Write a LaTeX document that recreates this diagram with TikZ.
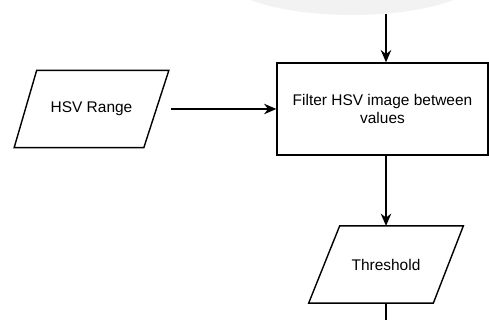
\documentclass[tikz,border=0pt]{standalone}
\usepackage{fontspec}
\setmainfont{Liberation Sans}
\usetikzlibrary{arrows.meta}

\begin{document}
\begin{tikzpicture}[x=0.02cm, y=0.02cm,
    every node/.style={font=\fontsize{8.8}{10.2}\selectfont},
    line/.style={line width=0.8pt},
    flow/.style={line, -{Stealth[length=7pt, width=6pt]}},
    procbox/.style={draw, line, minimum width=4.22cm, minimum height=1.84cm, align=center},
    databox/.style={inner sep=0pt, minimum width=3.08cm, minimum height=1.53cm}]
    % 1. FULL I MARGES
    \useasboundingbox (0,0) rectangle (489,320);
    \clip (0,0) rectangle (489,320);
    \fill[gray!10] (352,345) ellipse [x radius=130, y radius=40];

    % 2. NODES
    \coordinate (top) at (386,306);
    \node[procbox] (filter) at (382.5,211) {Filter HSV image between\\values};
    \node[databox] (range) at (91.5,211) {HSV Range};
    \node[databox] (thresh) at (386,55.5) {Threshold};
    \coordinate (bottom) at (386,0);

    % 3. PARAL·LELOGRAMS
    \draw[line] (range.south west) -- ([xshift=-0.5cm]range.south east)
        -- (range.north east) -- ([xshift=0.45cm]range.north west) -- cycle;
    \draw[line] (thresh.south west) -- ([xshift=-0.6cm]thresh.south east)
        -- (thresh.north east) -- ([xshift=0.62cm]thresh.north west) -- cycle;

    % 4. FLETXES
    \draw[flow] (top) -- (top |- filter.north);
    \draw[flow, shorten <=0.04cm] (range.east) -- (filter.west);
    \draw[flow] (filter.south -| thresh.north) -- (thresh.north);
    \draw[line] (thresh.south) -- (bottom);
\end{tikzpicture}
\end{document}
